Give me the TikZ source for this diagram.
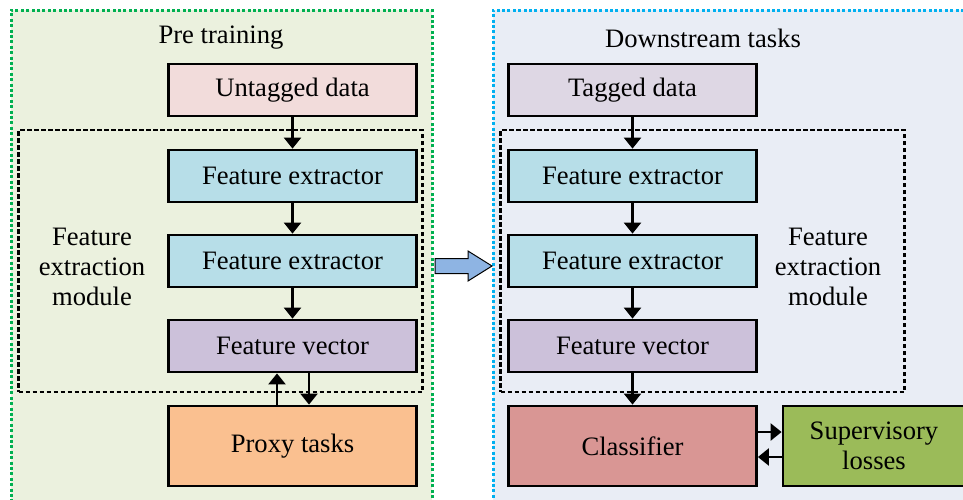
\documentclass[tikz,border=0pt]{standalone}
\usepackage{fontspec}
\setmainfont{Liberation Serif}
\usetikzlibrary{arrows.meta}

\definecolor{prefill}{HTML}{EBF1DE}
\definecolor{downfill}{HTML}{E9EDF5}
\definecolor{preline}{HTML}{00B050}
\definecolor{downline}{HTML}{00B0F0}
\definecolor{untagfill}{HTML}{F2DCDB}
\definecolor{tagfill}{HTML}{DED7E4}
\definecolor{extfill}{HTML}{B7DEE8}
\definecolor{vecfill}{HTML}{CCC1DA}
\definecolor{proxyfill}{HTML}{FAC090}
\definecolor{clsfill}{HTML}{D99694}
\definecolor{supfill}{HTML}{9BBB59}
\definecolor{bigarrow}{HTML}{8EB4E3}

\begin{document}
\begin{tikzpicture}[x=1pt,y=-1pt,
  txt/.style={font=\fontsize{26.6}{30}\selectfont},
  panel/.style={line width=3pt,dash pattern=on 3pt off 2.4pt,inner sep=0pt},
  module/.style={draw=black,line width=2.4pt,dash pattern=on 4.5pt off 2.5pt,inner sep=0pt},
  box/.style={txt,draw=black,line width=2.8pt,inner sep=0pt,minimum width=248pt,minimum height=52pt},
  tallbox/.style={box,minimum height=80pt},
  conn/.style={line width=2.4pt,-{Triangle[width=17pt,length=11pt]}},
  label/.style={txt,align=center,inner sep=0pt}
]
\useasboundingbox (0,0) rectangle (963,499);

% panels
\node[panel,draw=preline,fill=prefill,minimum width=421pt,minimum height=510pt] (prepanel) at (221.5,265) {};
\node[panel,draw=downline,fill=downfill,minimum width=480pt,minimum height=510pt] (downpanel) at (733,265) {};
\node[label] (pretitle) at (221,38) {Pre training};
\node[label] (downtitle) at (703,38) {Downstream tasks};

% dashed feature extraction modules
\node[module,minimum width=404pt,minimum height=262pt] (lmod) at (220.5,261) {};
\node[module,minimum width=404pt,minimum height=262pt] (rmod) at (702.5,261) {};
\node[label] (lmodtext) at (92,267) {Feature\\extraction\\module};
\node[label] (rmodtext) at (828,267) {Feature\\extraction\\module};

% pre training column
\node[box,fill=untagfill] (untag) at (292.5,90) {\raisebox{-1.5pt}{Untagged data}};
\node[box,fill=extfill] (lfe1) at (292.5,176) {Feature extractor};
\node[box,fill=extfill] (lfe2) at (292.5,261) {Feature extractor};
\node[box,fill=vecfill] (lfv) at (292.5,346) {Feature vector};
\node[tallbox,fill=proxyfill] (proxy) at (292.5,446) {\raisebox{-1pt}{Proxy tasks}};

% downstream column
\node[box,fill=tagfill] (tag) at (632.5,90) {\raisebox{-1.5pt}{Tagged data}};
\node[box,fill=extfill] (rfe1) at (632.5,176) {Feature extractor};
\node[box,fill=extfill] (rfe2) at (632.5,261) {Feature extractor};
\node[box,fill=vecfill] (rfv) at (632.5,346) {Feature vector};
\node[tallbox,fill=clsfill] (cls) at (632.5,446) {Classifier};
\node[tallbox,fill=supfill,minimum width=182pt,align=center] (sup) at (874,446) {Supervisory\\losses};

% connectors
\draw[conn] (untag) -- (lfe1);
\draw[conn] (lfe1) -- (lfe2);
\draw[conn] (lfe2) -- (lfv);
\draw[conn] ([xshift=-15.5pt]proxy.north) -- ([xshift=-15.5pt]lfv.south);
\draw[conn] ([xshift=16.5pt]lfv.south) -- ([xshift=16.5pt]proxy.north);

\draw[conn] (tag) -- (rfe1);
\draw[conn] (rfe1) -- (rfe2);
\draw[conn] (rfe2) -- (rfv);
\draw[conn] (rfv) -- (cls);
\draw[conn] ([yshift=14pt]cls.east) -- ([yshift=14pt]sup.west);
\draw[conn] ([yshift=-11pt]sup.west) -- ([yshift=-11pt]cls.east);

% transfer arrow between the two stages
\draw[fill=bigarrow,line width=1pt,line join=miter]
  (435,258.5) -- (468,258.5) -- (468,251) -- (492,266) -- (468,281) -- (468,273.5) -- (435,273.5) -- cycle;
\end{tikzpicture}
\end{document}
